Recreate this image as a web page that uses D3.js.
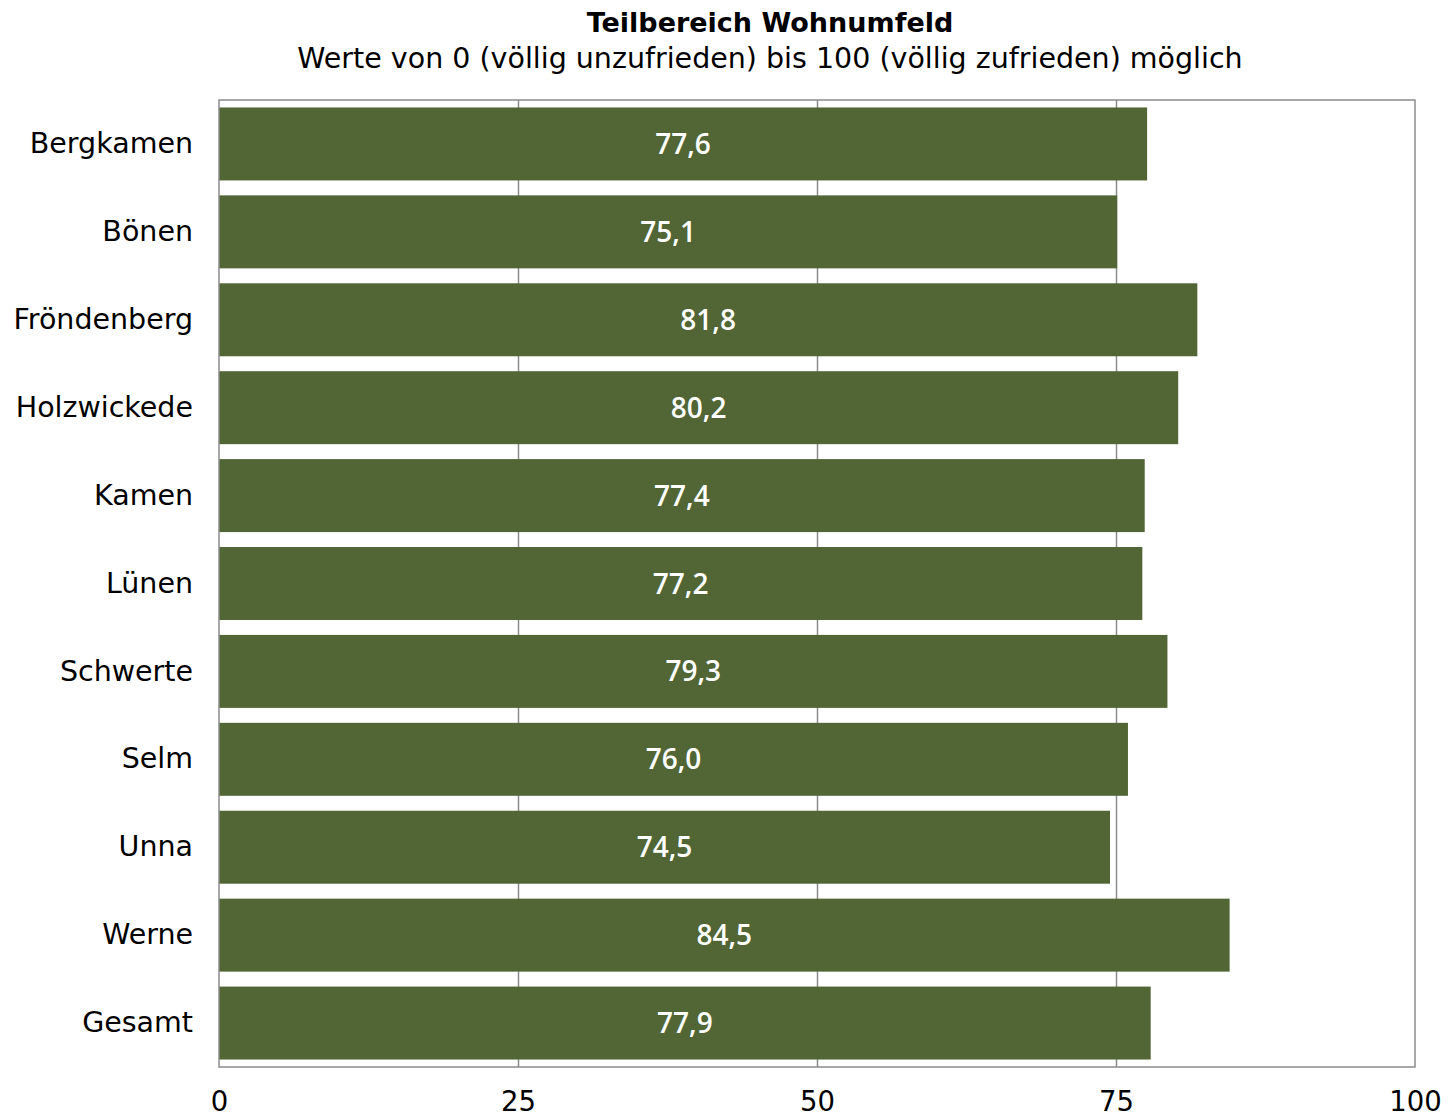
<!DOCTYPE html>
<html><head><meta charset="utf-8">
<script src="https://cdn.jsdelivr.net/npm/d3@7"></script>
<style>body{margin:0;background:#fff}</style>
</head><body>
<svg id="c" width="1454" height="1118"></svg>
<script>
const categories = ["Bergkamen","Bönen","Fröndenberg","Holzwickede","Kamen","Lünen","Schwerte","Selm","Unna","Werne","Gesamt"];
const values = [77.6,75.1,81.8,80.2,77.4,77.2,79.3,76.0,74.5,84.5,77.9];
const tickValues = [0,25,50,75,100];
const title = "Teilbereich Wohnumfeld";
const subtitle = "Werte von 0 (völlig unzufrieden) bis 100 (völlig zufrieden) möglich";

const font = "'DejaVu Sans', Verdana, sans-serif";
const valFont = "'Open Sans', 'DejaVu Sans', sans-serif";
const svg = d3.select("#c");
const m = {left:219, right:1415, top:100, bottom:1067};
const x = d3.scaleLinear().domain([0,100]).range([m.left, m.right]);
const y = d3.scaleBand().domain(categories).range([m.top, m.bottom]).paddingInner(0.17).paddingOuter(0.085);

// gridlines
svg.append("g").selectAll("line").data(tickValues.slice(1,-1)).join("line")
  .attr("x1", d=>x(d)+0.5).attr("x2", d=>x(d)+0.5)
  .attr("y1", m.top).attr("y2", m.bottom)
  .attr("stroke", "#8c8c8c").attr("stroke-width", 1.5);

// bars
svg.append("g").selectAll("rect").data(values).join("rect")
  .attr("x", x(0)).attr("y", (d,i)=>y(categories[i]))
  .attr("width", d=>x(d)-x(0)).attr("height", y.bandwidth())
  .attr("fill", "#516535");

// frame
svg.append("rect").attr("x", m.left).attr("y", m.top)
  .attr("width", m.right-m.left).attr("height", m.bottom-m.top)
  .attr("fill","none").attr("stroke","#8c8c8c").attr("stroke-width",1.5);

// value labels
svg.append("g").selectAll("text").data(values).join("text")
  .attr("x", d=>(x(0)+x(d))/2).attr("y", (d,i)=>y(categories[i])+y.bandwidth()/2)
  .attr("dy","0.36em").attr("text-anchor","middle")
  .attr("fill","#fff").attr("font-family",valFont).attr("font-weight",600).attr("font-size",28)
  .text(d=>d.toFixed(1).replace(".",","));

// y axis labels
const ya = d3.axisLeft(y).tickSize(0).tickPadding(26);
svg.append("g").attr("transform",`translate(${m.left},0)`).call(ya)
  .call(g=>g.select(".domain").remove())
  .selectAll("text").attr("font-family",font).attr("font-size",28.5).attr("fill","#000");

// x axis
const xa = d3.axisBottom(x).tickValues(tickValues).tickSize(0).tickPadding(24).tickFormat(d3.format("d"));
svg.append("g").attr("transform",`translate(0,${m.bottom})`).call(xa)
  .call(g=>g.select(".domain").remove())
  .selectAll("text").attr("font-family",font).attr("font-size",27.5).attr("fill","#000");

svg.append("text").attr("x",770).attr("y",32).attr("text-anchor","middle")
  .attr("font-family",font).attr("font-weight","bold").attr("font-size",27).text(title);
svg.append("text").attr("x",770).attr("y",68).attr("text-anchor","middle")
  .attr("font-family",font).attr("font-size",28.5).text(subtitle);
</script>
</body></html>
